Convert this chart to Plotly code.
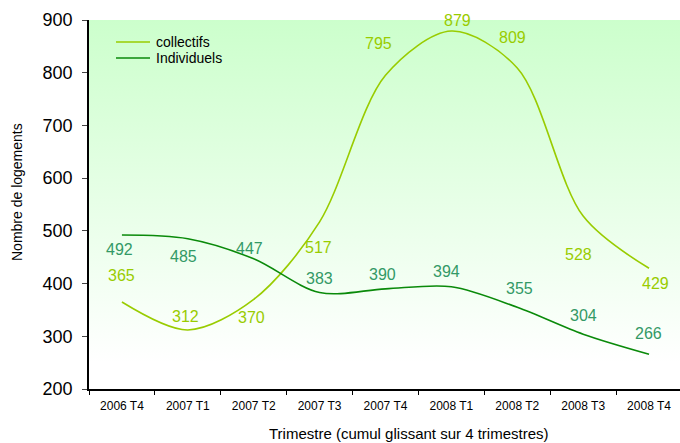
import plotly.graph_objects as go

trimestres = ["2006 T4", "2007 T1", "2007 T2", "2007 T3", "2007 T4",
              "2008 T1", "2008 T2", "2008 T3", "2008 T4"]
collectifs = [365, 312, 370, 517, 795, 879, 809, 528, 429]
individuels = [492, 485, 447, 383, 390, 394, 355, 304, 266]
series_names = ["collectifs", "Individuels"]

# label offsets (pixels) relative to the data point
coll_dy = [27, 13, -18, -26, 32, 11, 30, -38, -15]
coll_dx = [0, -2, -2, -1, -7, 6, -5, -5, 6]
ind_dy = [-14, -18, 10, 14, 14, 15, 19, 19, 21]
ind_dx = [-2, -4, -4, 0, -3, -5, 2, 0, -1]

C_COLL = "#99cc00"
C_IND = "#0a8a0a"
C_IND_LBL = "#339966"
FONT = "Liberation Sans, Arial"

xs = list(range(len(trimestres)))
fig = go.Figure()

# gradient background
fig.add_trace(go.Scatter(
    x=[-0.5, 8.6, 8.6, -0.5, -0.5], y=[200, 200, 900, 900, 200],
    mode="lines", line=dict(width=0), fill="toself",
    fillgradient=dict(type="vertical", start=250, stop=900,
                      colorscale=[[0, "#ffffff"], [1, "#ccffcc"]]),
    showlegend=False, hoverinfo="skip"))

# faint vertical separators
for b in range(8):
    for (y0, y1) in [(230, 620), (640, 700), (720, 780)]:
        fig.add_shape(type="line", x0=b + 0.5, x1=b + 0.5, y0=y0, y1=y1,
                      xref="x", yref="y", line=dict(color="#d6f7d6", width=1),
                      layer="below")

fig.add_trace(go.Scatter(x=xs, y=collectifs, name=series_names[0], mode="lines",
                         line=dict(color=C_COLL, width=1.6, shape="spline", smoothing=0.9),
                         showlegend=False))
fig.add_trace(go.Scatter(x=xs, y=individuels, name=series_names[1], mode="lines",
                         line=dict(color=C_IND, width=1.6, shape="spline", smoothing=0.9),
                         showlegend=False))

for i, v in enumerate(collectifs):
    fig.add_annotation(x=i, y=v, text=str(v), showarrow=False, xshift=coll_dx[i],
                       yshift=coll_dy[i], font=dict(size=16, color=C_COLL, family=FONT))
for i, v in enumerate(individuels):
    fig.add_annotation(x=i, y=v, text=str(v), showarrow=False, xshift=ind_dx[i],
                       yshift=ind_dy[i], font=dict(size=16, color=C_IND_LBL, family=FONT))

# manual legend (compact rows like the reference)
PW, PH = 591, 369
def px(xp):
    return (xp - 89) / PW
def py(yp):
    return (389 - yp) / PH
for name, col, yp in [(series_names[0], C_COLL, 42), (series_names[1], C_IND, 58)]:
    fig.add_shape(type="line", xref="paper", yref="paper", x0=px(116), x1=px(150),
                  y0=py(yp), y1=py(yp), line=dict(color=col, width=1.6))
    fig.add_annotation(text=name, xref="paper", yref="paper", x=px(154), y=py(yp),
                       xanchor="left", yanchor="middle", showarrow=False,
                       font=dict(size=14, color="#000000", family=FONT))

fig.add_annotation(text="Trimestre (cumul glissant sur 4 trimestres)", xref="paper",
                   yref="paper", x=px(409), y=py(433), xanchor="center", yanchor="middle",
                   showarrow=False, font=dict(size=15, color="#000000", family=FONT))
fig.add_annotation(text="Nombre de logements", xref="paper", yref="paper",
                   x=px(17), y=py(192), xanchor="center", yanchor="middle",
                   textangle=-90, showarrow=False,
                   font=dict(size=14, color="#000000", family=FONT))

fig.update_layout(
    width=680, height=443,
    margin=dict(l=89, r=0, t=20, b=54, autoexpand=False),
    paper_bgcolor="white", plot_bgcolor="rgba(0,0,0,0)",
    font=dict(family=FONT, color="#000000"),
    showlegend=False,
)
fig.update_xaxes(range=[-0.5, 8.47], tickvals=xs, ticktext=trimestres, ticks="",
                 showgrid=False, zeroline=False, showline=True, linecolor="#000000",
                 linewidth=1.5, tickfont=dict(size=12), ticklabelstandoff=5,
                 automargin=False,
                 minor=dict(tick0=0.5, dtick=1, ticks="outside", ticklen=4,
                            tickcolor="#000000", showgrid=False))
fig.update_yaxes(range=[200, 900], dtick=100, ticks="outside", ticklen=5,
                 showgrid=False, zeroline=False, showline=True, linecolor="#000000",
                 linewidth=1.5, tickfont=dict(size=18), ticklabelstandoff=6,
                 automargin=False)

fig.write_html("out.html", config={"displayModeBar": False},
               post_script="document.body.style.margin='0';document.body.style.overflow='hidden';")
